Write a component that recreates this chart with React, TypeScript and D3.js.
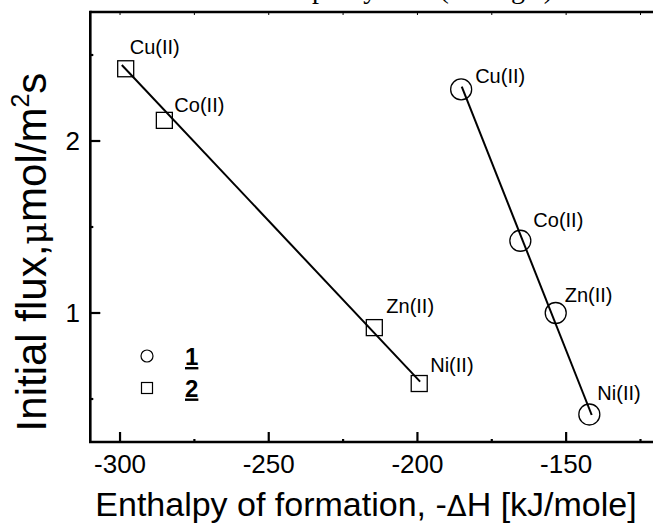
import React, { useRef, useEffect } from 'react';
import * as d3 from 'd3';

// metal ions, same order in both series
const ions = ['Cu(II)', 'Co(II)', 'Zn(II)', 'Ni(II)'];

// series 1 (circles)
const enthalpy1 = [-185.3, -165.4, -153.5, -142.2];
const flux1 = [2.30, 1.42, 1.00, 0.41];
const fit1 = [[-185.1, 2.316], [-141.4, 0.407]];

// series 2 (squares)
const enthalpy2 = [-298.1, -285.1, -214.5, -199.4];
const flux2 = [2.42, 2.12, 0.915, 0.59];
const fit2 = [[-299.4, 2.442], [-199.1, 0.601]];

const xMajor = [-300, -250, -200, -150];
const xMinor = [-275, -225, -175, -125];
const yMajor = [1, 2];
const yMinor = [0.5, 1.5, 2.5];

// label offsets in px (dx, dy) per point
const labelOff1 = [[14, -6], [13, -14], [9, -11], [8, -14]];
const labelOff2 = [[4, -15], [10, -8], [12, -15], [11, -12]];

const FONT = 'Liberation Sans, Arial, sans-serif';

export default function App() {
  const ref = useRef(null);

  useEffect(() => {
    const width = 653;
    const svg = d3.select(ref.current);
    svg.selectAll('*').remove();

    const x = d3.scaleLinear().domain([-310, -110]).range([90.3, 90.3 + 200 * 2.974]);
    const y = d3.scaleLinear().domain([0.25, 2.75]).range([442, 12]);

    const g = svg.append('g').attr('font-family', FONT);

    // clipped caption line of the page above the figure
    g.append('text')
      .attr('x', 312)
      .attr('y', -2)
      .attr('font-family', 'Liberation Serif, Times New Roman, serif')
      .attr('font-size', 28)
      .text('pretty well (amongst)');

    // frame: left and bottom axes, top line
    const x0 = x(-310), x1 = width + 5;
    const yTop = y(2.75), yBot = y(0.25);
    const axis = g.append('g').attr('stroke', '#000').attr('stroke-width', 2.6).attr('fill', 'none');
    axis.append('path').attr('d', `M${x0},${yTop}V${yBot}H${x1}`).attr('stroke-linecap', 'square');
    axis.append('path').attr('d', `M${x0},${yTop}H${x1}`);

    // bottom ticks (inward)
    const tk = g.append('g').attr('stroke', '#000').attr('stroke-width', 2.2);
    tk.selectAll('.xmaj').data(xMajor).enter().append('line')
      .attr('x1', d => x(d)).attr('x2', d => x(d)).attr('y1', yBot).attr('y2', yBot - 10);
    tk.selectAll('.xmin').data(xMinor).enter().append('line')
      .attr('x1', d => x(d)).attr('x2', d => x(d)).attr('y1', yBot).attr('y2', yBot - 3);
    // top ticks
    tk.selectAll('.xtop').data(xMajor.concat(xMinor)).enter().append('line')
      .attr('x1', d => x(d)).attr('x2', d => x(d)).attr('y1', yTop).attr('y2', yTop + 3)
      .attr('stroke-width', 1);
    // left ticks
    tk.selectAll('.ymaj').data(yMajor).enter().append('line')
      .attr('x1', x0).attr('x2', x0 + 10).attr('y1', d => y(d)).attr('y2', d => y(d));
    tk.selectAll('.ymin').data(yMinor).enter().append('line')
      .attr('x1', x0).attr('x2', x0 + 3).attr('y1', d => y(d)).attr('y2', d => y(d));

    // tick labels
    g.selectAll('.xl').data(xMajor).enter().append('text')
      .attr('x', d => x(d)).attr('y', 473)
      .attr('text-anchor', 'middle').attr('font-size', 26)
      .text(d => d);
    g.selectAll('.yl').data(yMajor).enter().append('text')
      .attr('x', 80).attr('y', d => y(d) + 9)
      .attr('text-anchor', 'end').attr('font-size', 26)
      .text(d => d);

    // axis titles
    const xt = g.append('text')
      .attr('x', 366).attr('y', 516)
      .attr('text-anchor', 'middle').attr('font-size', 34);
    xt.append('tspan').text('Enthalpy of formation, -');
    xt.append('tspan').attr('font-family', 'DejaVu Sans, sans-serif').attr('font-size', 29).text('Δ');
    xt.append('tspan').text('H [kJ/mole]');

    const yt = g.append('text')
      .attr('transform', 'translate(46,252) rotate(-90)')
      .attr('text-anchor', 'middle').attr('font-size', 42);
    yt.append('tspan').text('Initial flux,');
    yt.append('tspan').attr('font-family', 'DejaVu Serif, serif').attr('font-size', 35).text('μ');
    yt.append('tspan').text('mol/m');
    yt.append('tspan').attr('font-size', 25).attr('dy', -17).text('2');
    yt.append('tspan').attr('dy', 17).text('s');

    // fitted lines
    const line = d3.line().x(d => x(d[0])).y(d => y(d[1]));
    g.append('path').datum(fit2).attr('d', line).attr('stroke', '#000').attr('stroke-width', 2).attr('fill', 'none');
    g.append('path').datum(fit1).attr('d', line).attr('stroke', '#000').attr('stroke-width', 2).attr('fill', 'none');

    // squares
    const s = 16;
    g.selectAll('.sq').data(enthalpy2).enter().append('rect')
      .attr('x', d => x(d) - s / 2).attr('y', (d, i) => y(flux2[i]) - s / 2)
      .attr('width', s).attr('height', s)
      .attr('fill', 'none').attr('stroke', '#000').attr('stroke-width', 1.3);
    // circles
    g.selectAll('.ci').data(enthalpy1).enter().append('circle')
      .attr('cx', d => x(d)).attr('cy', (d, i) => y(flux1[i])).attr('r', 10.5)
      .attr('fill', 'none').attr('stroke', '#000').attr('stroke-width', 1.3);

    // point labels
    g.selectAll('.l2').data(ions).enter().append('text')
      .attr('x', (d, i) => x(enthalpy2[i]) + labelOff2[i][0])
      .attr('y', (d, i) => y(flux2[i]) + labelOff2[i][1])
      .attr('font-size', 20).text(d => d);
    g.selectAll('.l1').data(ions).enter().append('text')
      .attr('x', (d, i) => x(enthalpy1[i]) + labelOff1[i][0])
      .attr('y', (d, i) => y(flux1[i]) + labelOff1[i][1])
      .attr('font-size', 20).text(d => d);

    // legend
    const lg = g.append('g');
    lg.append('circle').attr('cx', 147).attr('cy', 356).attr('r', 6)
      .attr('fill', 'none').attr('stroke', '#000').attr('stroke-width', 1.2);
    lg.append('rect').attr('x', 141.5).attr('y', 382.5).attr('width', 11).attr('height', 11)
      .attr('fill', 'none').attr('stroke', '#000').attr('stroke-width', 1.2);
    lg.selectAll('.lt').data(['1', '2']).enter().append('text')
      .attr('x', 185).attr('y', (d, i) => 365 + i * 31.5)
      .attr('font-size', 24).attr('font-weight', 'bold')
      .attr('text-decoration', 'underline')
      .text(d => d);
  }, []);

  return (
    <svg ref={ref} width={653} height={526}
      style={{ position: 'absolute', left: 0, top: 0, background: '#fff', overflow: 'hidden' }} />
  );
}
